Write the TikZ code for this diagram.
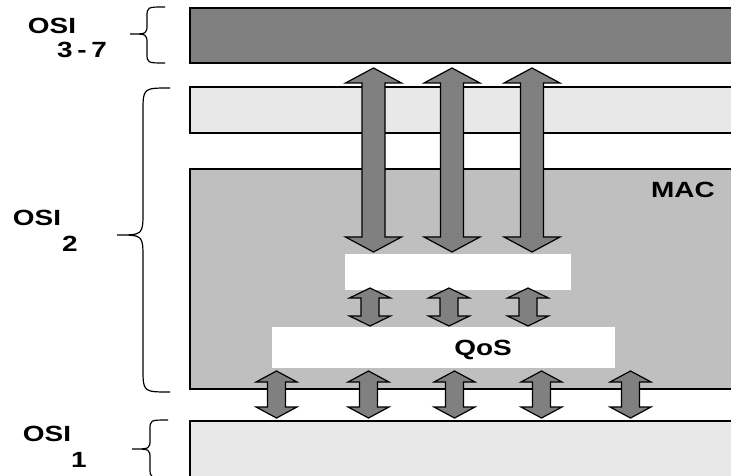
\documentclass[tikz,border=0pt]{standalone}
\usepackage{fontspec}
\setmainfont{Liberation Sans}
\definecolor{layerdark}{gray}{0.50}
\definecolor{layerlight}{gray}{0.91}
\definecolor{maclayer}{gray}{0.75}
\definecolor{arrowgray}{gray}{0.50}
\tikzset{
  layer/.style={draw=black,line width=0.7pt},
  slot/.style={fill=white},
  updownarr/.style={fill=arrowgray,draw=black,line width=0.6pt,line join=miter},
  osibr/.style={draw=black,line width=0.6pt},
  lab/.style={font=\fontsize{11}{13}\selectfont\bfseries,inner sep=0pt,xscale=1.27},
}
% block arrow with two heads: centre x, top y, bottom y, half shaft, half head, head length
\newcommand{\updown}[6]{%
  \draw[updownarr] (#1,#2) -- ({#1+#5},{#2+#6}) -- ({#1+#4},{#2+#6})
    -- ({#1+#4},{#3-#6}) -- ({#1+#5},{#3-#6}) -- (#1,#3)
    -- ({#1-#5},{#3-#6}) -- ({#1-#4},{#3-#6}) -- ({#1-#4},{#2+#6})
    -- ({#1-#5},{#2+#6}) -- cycle;}
% curly brace opening to the right: x of stem, top, tip y, bottom, tip x, end x, curl
\newcommand{\osibrace}[7]{%
  \draw[osibr] (#6,#2) .. controls (#1,#2) .. (#1,{#2+#7})
    -- (#1,{#3-#7}) .. controls (#1,#3) .. (#5,#3)
    .. controls (#1,#3) .. (#1,{#3+#7})
    -- (#1,{#4-#7}) .. controls (#1,#4) .. (#6,#4);}

\begin{document}
\begin{tikzpicture}[x=0.5pt,y=-0.5pt]
  \clip (0,0) rectangle (731,475);
  % --- layers ---
  \draw[layer,fill=layerdark]  (190,8)   rectangle (740,63);   % OSI 3-7
  \draw[layer,fill=layerlight] (190,87)  rectangle (740,133);
  \draw[layer,fill=maclayer]   (190,169) rectangle (740,389);  % MAC
  \draw[layer,fill=layerlight] (190,421) rectangle (740,490);  % OSI 1
  \fill[slot] (345,254) rectangle (571,290);
  \fill[slot] (272,327) rectangle (615,368);
  % --- arrows ---
  \foreach \cx in {373.5,452,532}
    \updown{\cx}{68}{252}{11.5}{28}{15};
  \foreach \cx in {370,449,528}
    \updown{\cx}{288}{326}{9}{20.5}{10};
  \foreach \cx in {276.5,368.5,454.5,541.5,630.5}
    \updown{\cx}{371}{418}{9}{20.5}{11};
  % --- braces ---
  \osibrace{147}{7}{34}{63}{130}{165}{10}
  \osibrace{143}{88}{235}{392}{117}{170}{24}
  \osibrace{150}{420}{449}{478}{132}{168}{10}
  % --- labels ---
  \node[lab] (mac) at (683,190) {MAC};
  \node[lab] (qos) at (483,350) {QoS};
  \node[lab] (osiA) at (52,26)  {OSI};
  \node[lab] (numA) at (82,50)  {3\,-\,7};
  \node[lab] (osiB) at (37,218) {OSI};
  \node[lab] (numB) at (70,244) {2};
  \node[lab] (osiC) at (47,434) {OSI};
  \node[lab] (numC) at (79,460) {1};
\end{tikzpicture}
\end{document}
